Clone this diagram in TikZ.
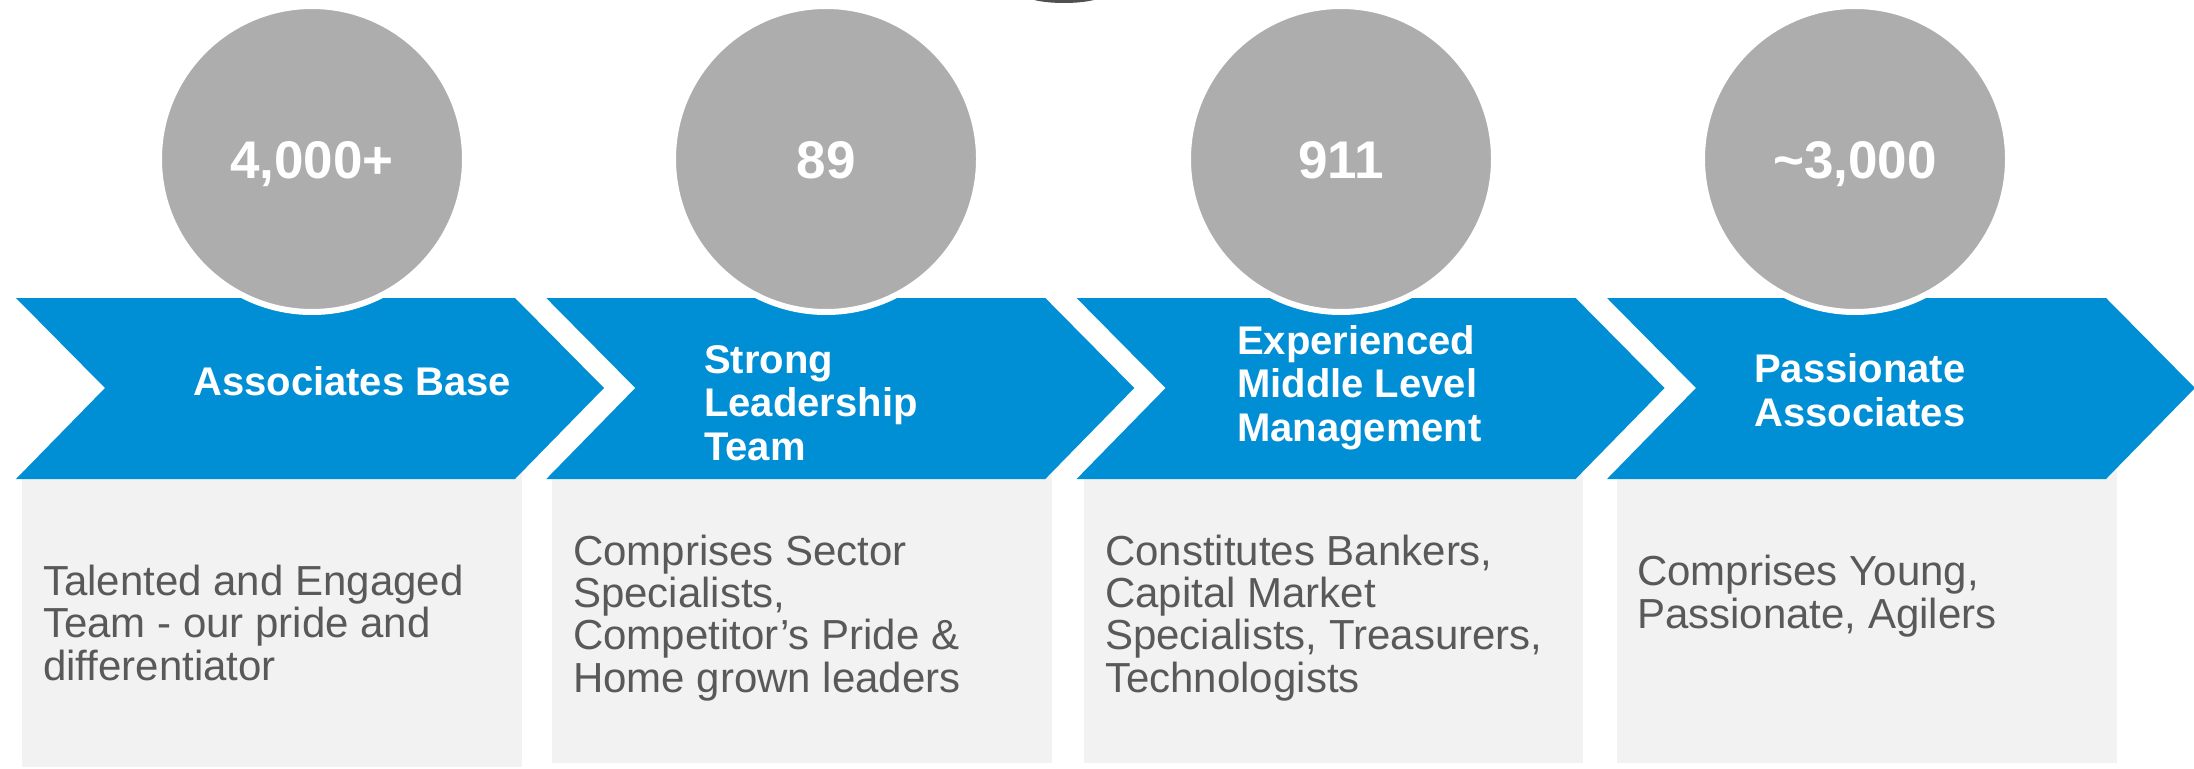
\documentclass[tikz,border=0pt]{standalone}
\usepackage{fontspec}
\setmainfont{Liberation Sans}
\begin{document}
\definecolor{chevblue}{HTML}{008ED4}
\definecolor{discgrey}{HTML}{ADADAD}
\definecolor{panelgrey}{HTML}{F2F2F2}
\definecolor{bodytext}{HTML}{595959}
\definecolor{darkdisc}{HTML}{505050}
\begin{tikzpicture}[x=1pt,y=-1pt,
  chevron/.style={fill=chevblue,draw=none},
  panel/.style={fill=panelgrey,draw=none},
  disc/.style={circle,fill=discgrey,draw=white,line width=6pt,minimum size=306pt,inner sep=0pt},
  figure/.style={font=\fontsize{53}{56}\selectfont\bfseries,text=white,inner sep=0pt,anchor=base},
  heading/.style={font=\fontsize{40}{43.5}\selectfont\bfseries,text=white,inner sep=0pt,align=left,anchor=base west},
  body/.style={font=\fontsize{42}{42.3}\selectfont,text=bodytext,inner sep=0pt,align=left,anchor=base west}]
\useasboundingbox (0,0) rectangle (2194,768);

% partly hidden dark disc at the top edge
\fill[darkdisc] (1064,-6) ellipse [x radius=40, y radius=9];

% grey description panels
\fill[panel] (22,470) rectangle (522,767);
\fill[panel] (552,470) rectangle (1052,763);
\fill[panel] (1084,470) rectangle (1583,763);
\fill[panel] (1617,470) rectangle (2117,763);

% blue chevrons
\foreach \x in {16,546.3,1076.6,1607}{
  \fill[chevron] (\x,298) -- ++(499,0) -- ++(89,90) -- ++(-89,91) -- ++(-499,0) -- ++(89,-91) -- cycle;
}

% grey discs with the headline figures
\node[disc] (c1) at (312,159) {};
\node[disc] (c2) at (826,159) {};
\node[disc] (c3) at (1341,159) {};
\node[disc] (c4) at (1855,159) {};
\node[figure] (n1) at (312,178) {4,000+};
\node[figure] (n2) at (826,178) {89};
\node[figure] (n3) at (1341,178) {911};
\node[figure] (n4) at (1855,178) {\textasciitilde3,000};

% chevron headings (anchored on the baseline of the last line)
\node[heading] (h1) at (193,395) {Associates Base};
\node[heading] (h2) at (704,460) {Strong\\Leadership\\Team};
\node[heading] (h3) at (1237,441) {Experienced\\Middle Level\\Management};
\node[heading] (h4) at (1754,426) {Passionate\\Associates};

% panel descriptions (anchored on the baseline of the last line)
\node[body] (d1) at (43,680) {Talented and Engaged\\Team - our pride and\\differentiator};
\node[body] (d2) at (573,692) {Comprises Sector\\Specialists,\\Competitor’s Pride \&\\Home grown leaders};
\node[body] (d3) at (1105,692) {Constitutes Bankers,\\Capital Market\\Specialists, Treasurers,\\Technologists};
\node[body] (d4) at (1637,628) {Comprises Young,\\Passionate, Agilers};
\end{tikzpicture}
\end{document}
